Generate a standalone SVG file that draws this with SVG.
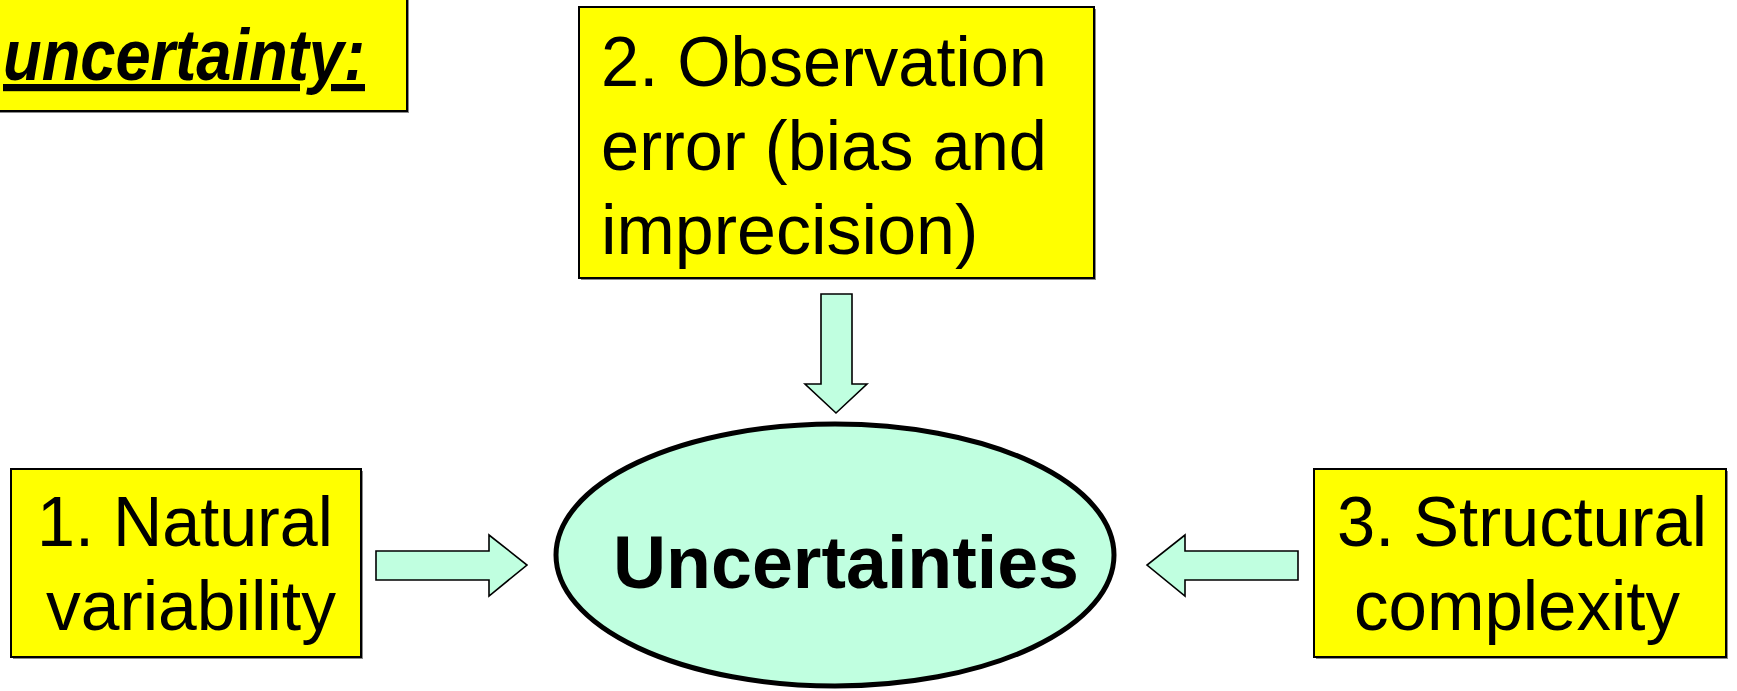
<svg xmlns="http://www.w3.org/2000/svg" width="1737" height="691" viewBox="0 0 1737 691">
<style>
.box{fill:#FFFF00;stroke:#000;stroke-width:2}
.shadow{fill:#8a8a8a}
.arrow{fill:#C0FFE0;stroke:#000;stroke-width:1.6;stroke-linejoin:miter}
.t{font-family:"Liberation Sans",Arial,sans-serif;font-size:70px;fill:#000}
.tb{font-family:"Liberation Sans",Arial,sans-serif;font-size:75px;font-weight:bold;fill:#000}
.ti{font-family:"Liberation Sans",Arial,sans-serif;font-size:72px;font-weight:bold;font-style:italic;fill:#000}
</style>
<rect width="1737" height="691" fill="#fff"/>
<g id="title">
<rect class="shadow" x="0" y="0" width="409" height="113"/>
<rect class="box" x="-3" y="-3" width="410" height="114"/>
<text class="ti" x="3" y="80" textLength="362" lengthAdjust="spacingAndGlyphs" text-decoration="underline">uncertainty:</text>
</g>
<g id="node2">
<rect class="shadow" x="581" y="9" width="515" height="271"/>
<rect class="box" x="579" y="7" width="515" height="271"/>
<text class="t" x="601" y="86" textLength="446" lengthAdjust="spacingAndGlyphs">2. Observation</text>
<text class="t" x="601" y="170" textLength="446" lengthAdjust="spacingAndGlyphs">error (bias and</text>
<text class="t" x="601" y="254">imprecision)</text>
</g>
<g id="node1">
<rect class="shadow" x="13" y="471" width="350" height="188"/>
<rect class="box" x="11" y="469" width="350" height="188"/>
<text class="t" x="37" y="546" textLength="296" lengthAdjust="spacingAndGlyphs">1. Natural</text>
<text class="t" x="46" y="630" textLength="290" lengthAdjust="spacingAndGlyphs">variability</text>
</g>
<g id="node3">
<rect class="shadow" x="1316" y="471" width="412" height="188"/>
<rect class="box" x="1314" y="469" width="412" height="188"/>
<text class="t" x="1337" y="546" textLength="370" lengthAdjust="spacingAndGlyphs">3. Structural</text>
<text class="t" x="1354" y="630" textLength="326" lengthAdjust="spacingAndGlyphs">complexity</text>
</g>
<g id="center">
<ellipse cx="835" cy="555" rx="279" ry="131" fill="#C0FFE0" stroke="#000" stroke-width="5"/>
<text class="tb" x="613" y="588" textLength="466" lengthAdjust="spacingAndGlyphs">Uncertainties</text>
</g>
<g id="connectors">
<polygon class="arrow" points="821,294 852,294 852,384 867,384 836,413 805,384 821,384"/>
<polygon class="arrow" points="376,551 489,551 489,535 527,565 489,596 489,580 376,580"/>
<polygon class="arrow" points="1298,551 1185,551 1185,535 1147,565 1185,596 1185,580 1298,580"/>
</g>
</svg>
